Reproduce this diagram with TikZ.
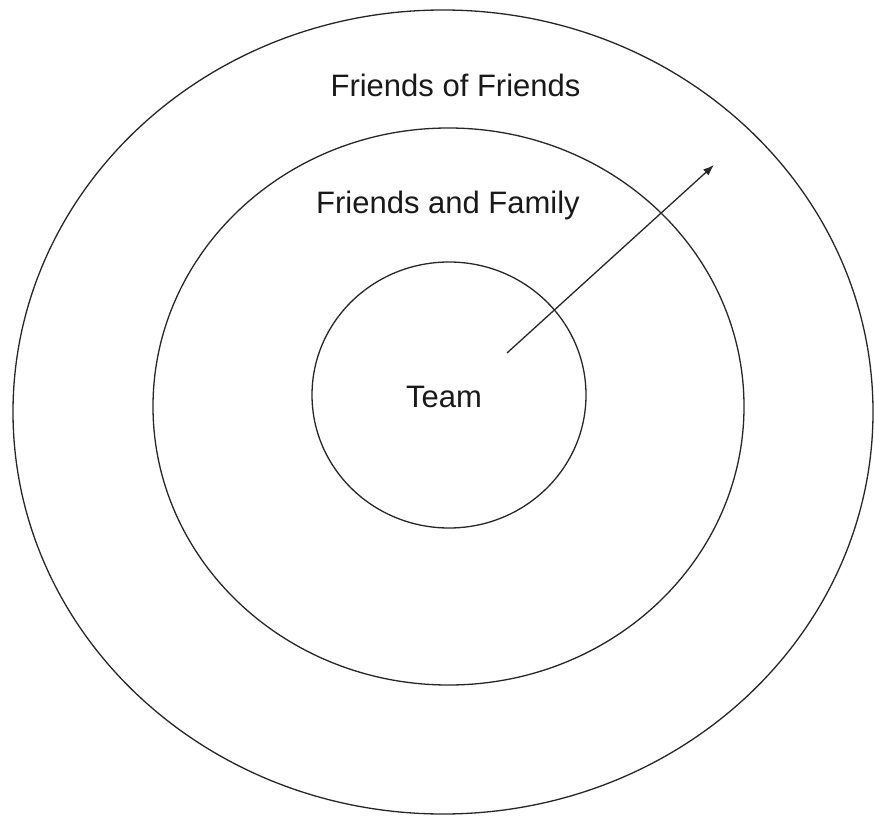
\documentclass[tikz,border=0pt]{standalone}
\usepackage{fontspec}
\setmainfont{Liberation Sans}
\usepackage{tikz}
\usetikzlibrary{shapes.geometric,arrows.meta}
\tikzstyle{ring}=[ellipse, draw=black!85, line width=1.3pt, inner sep=0pt, outer sep=0pt]
\tikzstyle{circlabel}=[anchor=base, inner sep=0pt, text=black!90, font=\fontsize{31pt}{36pt}\selectfont]
\tikzstyle{myarrow}=[-{Latex[length=11pt,width=8pt]}, line width=1.3pt, draw=black!85]

\begin{document}
\begin{tikzpicture}[x=1pt,y=-1pt]
	\useasboundingbox (0,0) rectangle (874,818);

	% the three circles
	\node (friends) [ring, minimum width=860pt, minimum height=804pt] at (443,412) {};
	\node (family) [ring, minimum width=591pt, minimum height=557pt] at (448.5,406.5) {};
	\node (team) [ring, minimum width=274pt, minimum height=266pt] at (449,395) {};

	% labels
	\node (friendsLabel) [circlabel] at (455.5,97) {Friends of Friends};
	\node (familyLabel) [circlabel] at (448,214) {Friends and Family};
	\node (teamLabel) [circlabel] at (444,407) {Team};

	% arrow pointing outwards
	\coordinate (arrowTail) at (507,353);
	\coordinate (arrowHead) at (714,165);
	\draw[myarrow] (arrowTail) -- (arrowHead);

\end{tikzpicture}
\end{document}
